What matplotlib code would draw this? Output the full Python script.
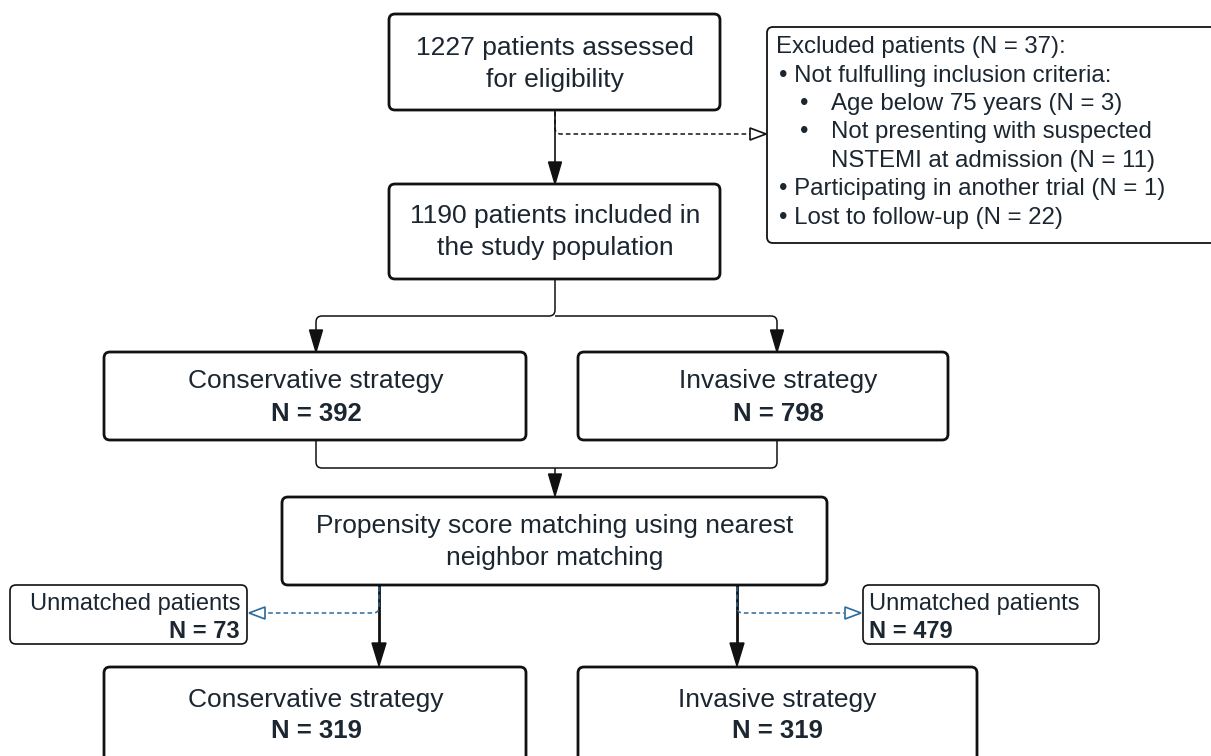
import matplotlib.pyplot as plt
from matplotlib.patches import FancyBboxPatch, Polygon
from matplotlib.path import Path
from matplotlib.patches import PathPatch

plt.rcParams['font.family'] = ['Liberation Sans', 'DejaVu Sans']

# flow numbers
n_assessed = 1227
n_included = 1190
n_excluded = 37
excl_labels = ["Age below 75 years", "Not presenting with suspected\nNSTEMI at admission",
               "Participating in another trial", "Lost to follow-up"]
excl_counts = [3, 11, 1, 22]
groups = ["Conservative strategy", "Invasive strategy"]
n_before = [392, 798]
n_matched = [319, 319]
n_unmatched = [73, 479]

TXT = '#1b2631'
EDGE = '#111111'
BLUE = '#2a6a9c'
FS = 19
FSB = 18.5

fig = plt.figure(figsize=(12.11, 7.56), dpi=100)
ax = fig.add_axes([0, 0, 1, 1])
ax.set_xlim(0, 1211)
ax.set_ylim(756, 0)
ax.axis('off')


def box(x0, y0, x1, y1, lw=2.0, r=6):
    p = FancyBboxPatch((x0, y0), x1 - x0, y1 - y0,
                       boxstyle="round,pad=0,rounding_size=%d" % r,
                       fc='white', ec=EDGE, lw=lw, zorder=2)
    ax.add_patch(p)


def poly(pts, color=EDGE, lw=1.2, ls='-', r=6):
    # polyline with small rounded corners
    verts = [pts[0]]
    codes = [Path.MOVETO]
    for i in range(1, len(pts) - 1):
        (xa, ya), (xb, yb), (xc, yc) = pts[i - 1], pts[i], pts[i + 1]
        def toward(p, q, d):
            dx, dy = q[0] - p[0], q[1] - p[1]
            L = (dx ** 2 + dy ** 2) ** 0.5
            return (p[0] + dx / L * d, p[1] + dy / L * d)
        p1 = toward((xb, yb), (xa, ya), r)
        p2 = toward((xb, yb), (xc, yc), r)
        verts += [p1, (xb, yb), p2]
        codes += [Path.LINETO, Path.CURVE3, Path.CURVE3]
    verts.append(pts[-1])
    codes.append(Path.LINETO)
    ax.add_patch(PathPatch(Path(verts, codes), fc='none', ec=color, lw=lw,
                           ls=ls, zorder=1))


def head_down(x, y, w=6.5, h=22):
    ax.add_patch(Polygon([(x - w, y - h), (x + w, y - h), (x, y)],
                         closed=True, fc=EDGE, ec=EDGE, lw=1, zorder=3))


def head_open(x, y, direction, color, w=6, h=16):
    s = 1 if direction == 'right' else -1
    ax.add_patch(Polygon([(x - s * h, y - w), (x - s * h, y + w), (x, y)],
                         closed=True, fc='white', ec=color, lw=1.2, zorder=3))


# top boxes
box(389, 14, 720, 110)
ax.text(555, 55, f"{n_assessed} patients assessed", ha='center', va='baseline', fontsize=FS, color=TXT)
ax.text(555, 87, "for eligibility", ha='center', va='baseline', fontsize=FS, color=TXT)

box(389, 184, 720, 279)
ax.text(555, 223, f"{n_included} patients included in", ha='center', va='baseline', fontsize=FS, color=TXT)
ax.text(555, 255, "the study population", ha='center', va='baseline', fontsize=FS, color=TXT)

poly([(555, 110), (555, 164)], lw=1.2)
head_down(555, 184)
poly([(555, 112), (555, 134), (750, 134)], lw=1.1, ls=(0, (3, 2)))
head_open(766, 134, 'right', EDGE)

# excluded box
box(767, 27, 1225, 243, lw=1.3)
fs_ex = 17.3
ax.text(776, 53, f"Excluded patients (N = {n_excluded}):", va='baseline', fontsize=fs_ex, color=TXT)
ax.text(779, 82, "\u2022 Not fulfulling inclusion criteria:", va='baseline', fontsize=fs_ex, color=TXT)
ax.text(800, 110, "\u2022", va='baseline', fontsize=fs_ex, color=TXT)
ax.text(831, 110, f"{excl_labels[0]} (N = {excl_counts[0]})", va='baseline', fontsize=fs_ex, color=TXT)
ax.text(800, 138, "\u2022", va='baseline', fontsize=fs_ex, color=TXT)
l1, l2 = excl_labels[1].split("\n")
ax.text(831, 138, l1, va='baseline', fontsize=fs_ex, color=TXT)
ax.text(831, 167, f"{l2} (N = {excl_counts[1]})", va='baseline', fontsize=fs_ex, color=TXT)
ax.text(779, 195, f"\u2022 {excl_labels[2]} (N = {excl_counts[2]})", va='baseline', fontsize=fs_ex, color=TXT)
ax.text(779, 224, f"\u2022 {excl_labels[3]} (N = {excl_counts[3]})", va='baseline', fontsize=fs_ex, color=TXT)

# split to strategies
poly([(555, 279), (555, 316), (316, 316), (316, 332)], lw=1.1)
poly([(555, 316), (777, 316), (777, 332)], lw=1.1)
head_down(316, 352)
head_down(777, 352)

mid = [(104, 526, 316), (578, 948, 778)]
for (x0, x1, cx), g, n in zip(mid, groups, n_before):
    box(x0, 352, x1, 440)
    ax.text(cx, 388, g, ha='center', va='baseline', fontsize=FS, color=TXT)
    ax.text(cx, 421, f"N = {n}", ha='center', va='baseline', fontsize=FSB, color=TXT, fontweight='bold')

poly([(316, 440), (316, 468), (777, 468), (777, 440)], lw=1.1)
poly([(555, 468), (555, 476)], lw=1.1)
head_down(555, 496)

# propensity score matching
box(282, 497, 827, 585)
ax.text(555, 533, "Propensity score matching using nearest", ha='center', va='baseline', fontsize=FS, color=TXT)
ax.text(555, 565, "neighbor matching", ha='center', va='baseline', fontsize=FS, color=TXT)

# arrows to matched groups
for x in (379, 737):
    poly([(x, 585), (x, 645)], lw=2.0)
    head_down(x, 666, w=7, h=23)
poly([(379, 587), (379, 613), (266, 613)], color=BLUE, lw=1.1, ls=(0, (3, 2)))
head_open(249, 613, 'left', BLUE)
poly([(737, 587), (737, 613), (844, 613)], color=BLUE, lw=1.1, ls=(0, (3, 2)))
head_open(861, 613, 'right', BLUE)

# unmatched boxes
fs_u = 17
box(10, 585, 247, 644, lw=1.2)
ax.text(240, 610, "Unmatched patients", ha='right', va='baseline', fontsize=fs_u, color=TXT)
ax.text(240, 638, f"N = {n_unmatched[0]}", ha='right', va='baseline', fontsize=fs_u, color=TXT, fontweight='bold')
box(863, 585, 1099, 644, lw=1.2)
ax.text(869, 610, "Unmatched patients", ha='left', va='baseline', fontsize=fs_u, color=TXT)
ax.text(869, 638, f"N = {n_unmatched[1]}", ha='left', va='baseline', fontsize=fs_u, color=TXT, fontweight='bold')

# matched groups
bot = [(104, 526, 316), (578, 977, 777)]
for (x0, x1, cx), g, n in zip(bot, groups, n_matched):
    box(x0, 667, x1, 800)
    ax.text(cx, 707, g, ha='center', va='baseline', fontsize=FS, color=TXT)
    ax.text(cx, 738, f"N = {n}", ha='center', va='baseline', fontsize=FSB, color=TXT, fontweight='bold')

fig.savefig('out.png', dpi=100, facecolor='white')
